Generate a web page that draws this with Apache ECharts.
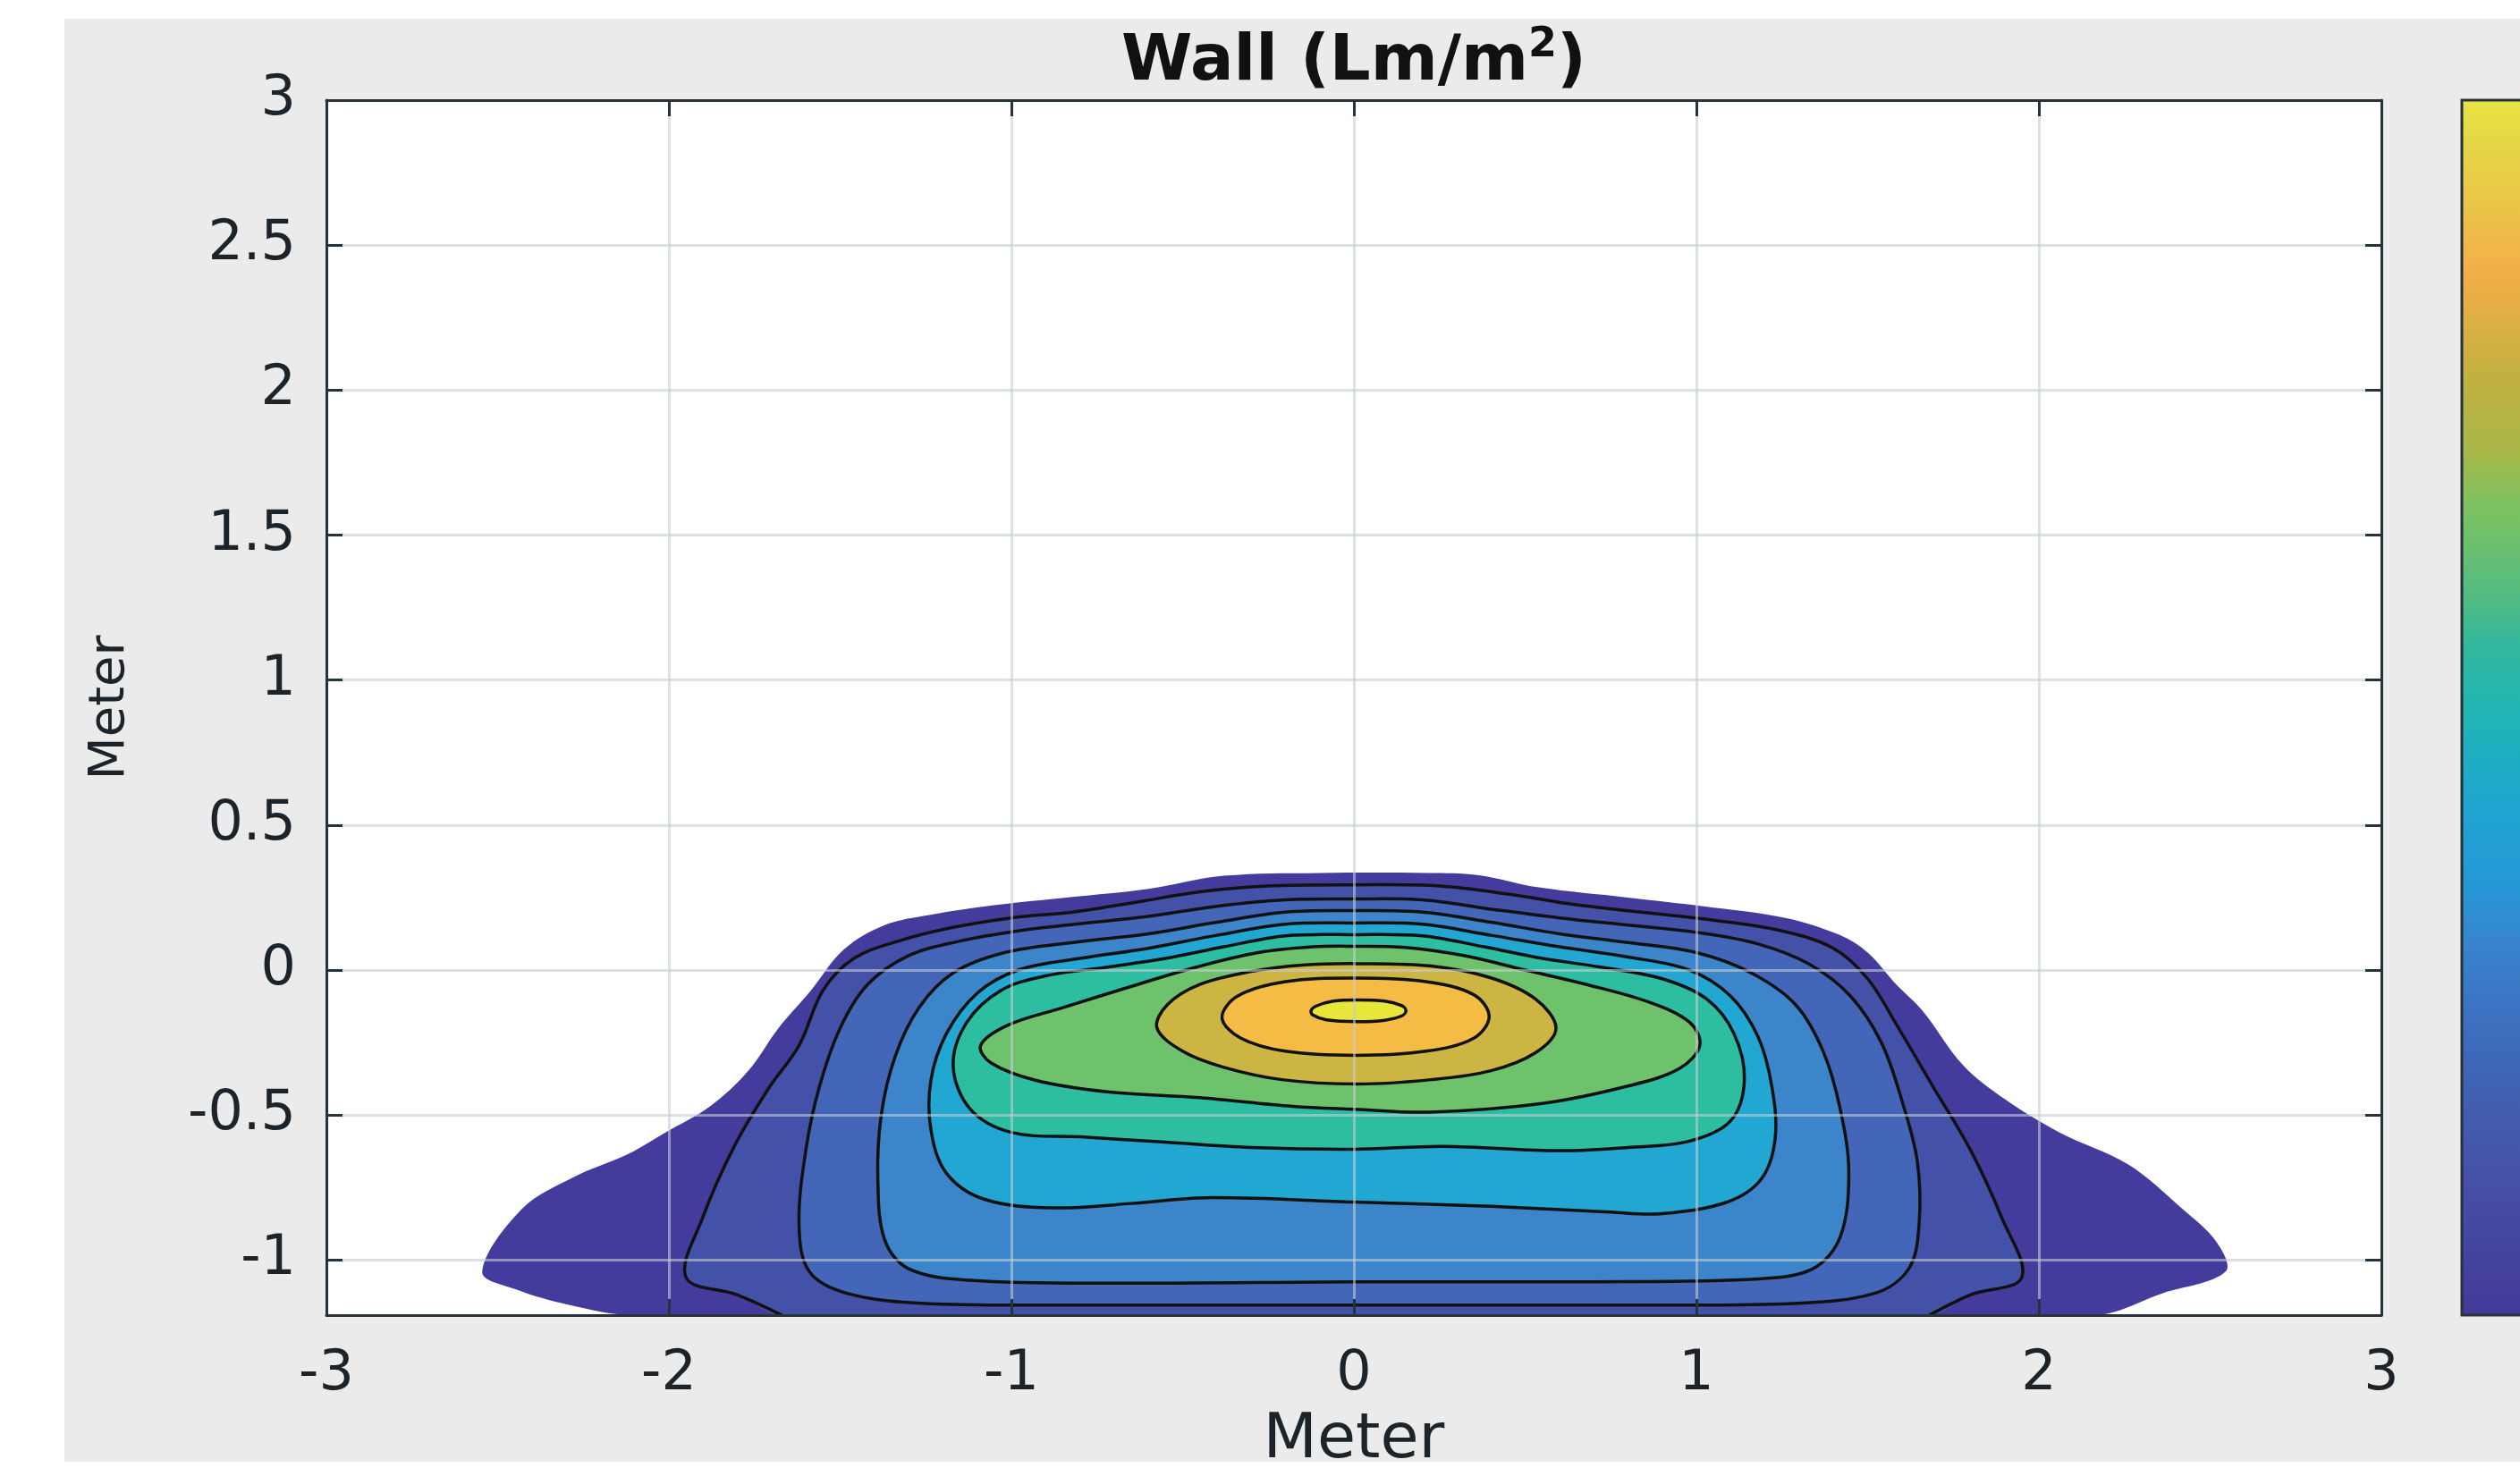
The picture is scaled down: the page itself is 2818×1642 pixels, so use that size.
<!DOCTYPE html>
<html><head><meta charset="utf-8">
<script src="https://cdn.jsdelivr.net/npm/echarts@6/dist/echarts.min.js"></script>
<style>html,body{margin:0;padding:0;background:#fff}#c{width:2818px;height:1642px}</style>
</head><body><div id="c"></div>
<script>
// ---- axes ----
const xTickLabels = ['-3', '-2', '-1', '0', '1', '2', '3'];
const yTickLabels = ['-1', '-0.5', '0', '0.5', '1', '1.5', '2', '2.5', '3'];
const xRange = [-3, 3];
const yRange = [-1.19, 3];

// ---- filled contour boundaries (x, y in metres), outermost level first ----
const level1Edge = [[-2.10,-1.19],[-2.29,-1.155],[-2.45,-1.10],[-2.545,-1.04],[-2.43,-0.825],[-2.28,-0.715],[-2.12,-0.635],[-2.01,-0.56],[-1.88,-0.47],[-1.77,-0.35],[-1.68,-0.20],[-1.585,-0.07],[-1.49,0.07],[-1.37,0.155],[-1.24,0.19],[-1.04,0.225],[-0.84,0.25],[-0.60,0.28],[-0.38,0.325],[-0.10,0.335],[0.22,0.335],[0.36,0.328],[0.54,0.285],[0.80,0.25],[1.02,0.22],[1.26,0.18],[1.42,0.12],[1.50,0.06],[1.58,-0.045],[1.66,-0.14],[1.78,-0.33],[1.90,-0.445],[2.06,-0.56],[2.26,-0.67],[2.42,-0.825],[2.52,-0.94],[2.545,-1.04],[2.36,-1.115],[2.16,-1.19]];
const level2Edge = [[-1.67,-1.19],[-1.80,-1.12],[-1.95,-1.06],[-1.90,-0.85],[-1.81,-0.61],[-1.71,-0.41],[-1.62,-0.26],[-1.55,-0.07],[-1.46,0.04],[-1.33,0.10],[-1.18,0.145],[-1.00,0.18],[-0.82,0.20],[-0.63,0.235],[-0.45,0.27],[-0.25,0.29],[0.00,0.294],[0.25,0.29],[0.45,0.262],[0.65,0.225],[0.85,0.198],[1.05,0.172],[1.25,0.135],[1.40,0.075],[1.50,-0.03],[1.59,-0.20],[1.69,-0.40],[1.80,-0.62],[1.89,-0.85],[1.95,-1.06],[1.80,-1.12],[1.68,-1.19]];
const level3Edge = [[0,-1.155],[-0.8,-1.155],[-1.25,-1.15],[-1.48,-1.115],[-1.59,-1.04],[-1.62,-0.88],[-1.60,-0.62],[-1.56,-0.40],[-1.50,-0.20],[-1.42,-0.05],[-1.30,0.05],[-1.15,0.10],[-0.98,0.135],[-0.80,0.16],[-0.60,0.185],[-0.40,0.22],[-0.20,0.242],[0,0.245],[0.20,0.242],[0.40,0.21],[0.60,0.18],[0.80,0.155],[1.00,0.13],[1.18,0.09],[1.33,0.02],[1.45,-0.09],[1.54,-0.25],[1.60,-0.45],[1.645,-0.66],[1.65,-0.88],[1.62,-1.03],[1.52,-1.115],[1.28,-1.15],[0.8,-1.155]];
const level4Edge = [[0,-1.075],[-0.7,-1.08],[-1.12,-1.07],[-1.30,-1.03],[-1.37,-0.93],[-1.39,-0.72],[-1.38,-0.50],[-1.34,-0.30],[-1.27,-0.13],[-1.17,-0.01],[-1.02,0.06],[-0.82,0.095],[-0.60,0.125],[-0.40,0.165],[-0.20,0.2],[0,0.205],[0.20,0.2],[0.40,0.165],[0.60,0.125],[0.80,0.095],[1.00,0.06],[1.16,-0.01],[1.29,-0.12],[1.37,-0.28],[1.42,-0.48],[1.445,-0.70],[1.42,-0.92],[1.34,-1.03],[1.18,-1.065],[0.7,-1.075]];
const level5Edge = [[0,-0.80],[-0.43,-0.785],[-0.65,-0.805],[-0.88,-0.82],[-1.08,-0.79],[-1.19,-0.70],[-1.235,-0.55],[-1.235,-0.38],[-1.19,-0.22],[-1.10,-0.08],[-0.98,0.00],[-0.80,0.04],[-0.60,0.075],[-0.40,0.12],[-0.20,0.158],[0,0.162],[0.20,0.158],[0.40,0.12],[0.60,0.08],[0.80,0.045],[0.98,0.0],[1.10,-0.09],[1.18,-0.23],[1.22,-0.40],[1.23,-0.58],[1.19,-0.72],[1.09,-0.80],[0.90,-0.84],[0.75,-0.835],[0.40,-0.815]];
const level6Edge = [[0,-0.618],[-0.30,-0.612],[-0.56,-0.593],[-0.80,-0.575],[-1.00,-0.56],[-1.12,-0.48],[-1.17,-0.33],[-1.13,-0.18],[-1.03,-0.07],[-0.90,-0.02],[-0.72,0.01],[-0.55,0.04],[-0.38,0.08],[-0.20,0.118],[0,0.122],[0.20,0.118],[0.38,0.08],[0.55,0.04],[0.72,0.01],[0.90,-0.03],[1.03,-0.10],[1.11,-0.22],[1.14,-0.38],[1.10,-0.52],[0.98,-0.59],[0.80,-0.612],[0.60,-0.623],[0.26,-0.608]];
const level7Edge = [[0,-0.48],[-0.18,-0.47],[-0.45,-0.44],[-0.72,-0.42],[-0.93,-0.38],[-1.06,-0.32],[-1.09,-0.26],[-1.01,-0.19],[-0.85,-0.13],[-0.66,-0.06],[-0.46,0.01],[-0.28,0.06],[-0.12,0.08],[0,0.082],[0.15,0.078],[0.32,0.05],[0.50,0.0],[0.68,-0.05],[0.86,-0.11],[0.98,-0.18],[1.01,-0.26],[0.95,-0.34],[0.80,-0.40],[0.55,-0.46],[0.22,-0.49]];
const level8Edge = [[0.01,-0.393],[-0.21,-0.378],[-0.384,-0.334],[-0.50,-0.28],[-0.575,-0.20],[-0.545,-0.12],[-0.45,-0.05],[-0.30,-0.005],[-0.15,0.017],[0.01,0.022],[0.225,0.014],[0.40,-0.027],[0.53,-0.10],[0.59,-0.20],[0.53,-0.285],[0.40,-0.347],[0.225,-0.378]];
const level9Edge = [[0.005,-0.294],[-0.20,-0.28],[-0.33,-0.235],[-0.385,-0.165],[-0.34,-0.09],[-0.20,-0.04],[0.005,-0.028],[0.21,-0.04],[0.35,-0.085],[0.395,-0.16],[0.35,-0.235],[0.21,-0.28]];
const level10Edge = [[0.01,-0.178],[-0.08,-0.172],[-0.12,-0.155],[-0.125,-0.14],[-0.11,-0.124],[-0.06,-0.107],[0.01,-0.103],[0.09,-0.107],[0.14,-0.123],[0.152,-0.14],[0.14,-0.158],[0.09,-0.173]];

const levelEdges = [level1Edge, level2Edge, level3Edge, level4Edge, level5Edge, level6Edge, level7Edge, level8Edge, level9Edge, level10Edge];
const levelTouchesBottom = [true, true, false, false, false, false, false, false, false, false];
const levelHasLine = [false, true, true, true, true, true, true, true, true, true];

// ---- styles ----
const levelColors = ['#433c9c', '#4451a9', '#4366b8', '#3c85ca', '#21a7d1', '#2dbda1', '#6dc26b', '#cdb544', '#f4bb45', '#e9e63a'];
const colorbarStops = [[0,'#e7e545'],[0.03,'#e6d846'],[0.09,'#eac447'],[0.145,'#f3ae48'],[0.22,'#c6b040'],[0.29,'#a8b848'],[0.33,'#80c25e'],[0.41,'#52bb82'],[0.45,'#31b89e'],[0.50,'#20b6b3'],[0.58,'#1fa6d0'],[0.645,'#2597d6'],[0.70,'#3a82cb'],[0.76,'#3c6fbf'],[0.82,'#4160b2'],[0.88,'#4552a8'],[0.94,'#4545a0'],[1.0,'#433998']];

const FONT = '"DejaVu Sans", "Liberation Sans", Arial, sans-serif';
const AXIS_COLOR = '#25343c';
const TEXT_COLOR = '#1c2429';
const GRID = {left: 365, top: 112, width: 2298, height: 1359};
const SMOOTH = 0.35;

const chart = echarts.init(document.getElementById('c'), null, {renderer: 'canvas'});

function renderItem(params, api) {
  const i = params.dataIndex;
  const pts = levelEdges[i].map(p => api.coord(p));
  const color = levelColors[i];
  const children = [];
  if (levelTouchesBottom[i]) {
    children.push({type: 'polygon', shape: {points: pts, smooth: SMOOTH}, style: {fill: color}});
    if (levelHasLine[i]) {
      children.push({type: 'polyline', shape: {points: pts, smooth: SMOOTH}, style: {fill: null, stroke: '#111', lineWidth: 3.5}});
    }
  } else {
    children.push({type: 'polygon', shape: {points: pts, smooth: SMOOTH}, style: {fill: color, stroke: '#111', lineWidth: 3.5}});
  }
  return {type: 'group', children};
}

function labelFor(list) {
  return function (v) {
    const s = String(Math.round(v * 100) / 100);
    return list.indexOf(s) >= 0 ? s : '';
  };
}

function mirrorAxis(extra) {
  return Object.assign({
    type: 'value', z: 3,
    axisLabel: {show: false}, splitLine: {show: false},
    axisLine: {show: true, onZero: false, lineStyle: {color: AXIS_COLOR, width: 3}},
    axisTick: {show: true, inside: true, length: 18, lineStyle: {color: AXIS_COLOR, width: 3}}
  }, extra);
}

chart.setOption({
  backgroundColor: '#ffffff',
  animation: false,
  graphic: [
    {type: 'rect', z: -10, shape: {x: 72, y: 21, width: 2746, height: 1614}, style: {fill: '#ebebeb'}},
    {type: 'rect', z: 10, shape: {x: 2753, y: 112, width: 90, height: 1359},
      style: {fill: new echarts.graphic.LinearGradient(0, 0, 0, 1, colorbarStops.map(s => ({offset: s[0], color: s[1]}))), stroke: AXIS_COLOR, lineWidth: 3}},
    {type: 'text', z: 10, x: 1514, y: 70,
      style: {text: '{t|Wall (Lm/m}{s|2}{t|)}', align: 'center', verticalAlign: 'middle',
        rich: {t: {fontFamily: FONT, fontWeight: 'bold', fontSize: 72, fill: '#111', lineHeight: 84},
               s: {fontFamily: FONT, fontWeight: 'bold', fontSize: 46, fill: '#111', verticalAlign: 'top', lineHeight: 40}}}}
  ],
  grid: {left: GRID.left, top: GRID.top, width: GRID.width, height: GRID.height, show: true, backgroundColor: '#ffffff', borderWidth: 0, z: 0,
    containLabel: false, outerBoundsMode: 'none'},
  xAxis: [
    {type: 'value', position: 'bottom', min: xRange[0], max: xRange[1], interval: 1, z: 3,
      name: 'Meter', nameLocation: 'middle', nameGap: 106,
      nameTextStyle: {fontFamily: FONT, fontSize: 70, color: TEXT_COLOR},
      axisLine: {show: true, onZero: false, lineStyle: {color: AXIS_COLOR, width: 3}},
      axisTick: {show: true, inside: true, length: 18, lineStyle: {color: AXIS_COLOR, width: 3}},
      axisLabel: {fontFamily: FONT, fontSize: 62, color: TEXT_COLOR, margin: 36, formatter: labelFor(xTickLabels)},
      splitLine: {show: true, lineStyle: {color: 'rgba(196,205,212,0.6)', width: 3}}},
    mirrorAxis({position: 'top', min: xRange[0], max: xRange[1], interval: 1})
  ],
  yAxis: [
    {type: 'value', position: 'left', min: yRange[0], max: yRange[1], splitNumber: 8, z: 3,
      name: 'Meter', nameLocation: 'middle', nameGap: 214, nameRotate: 90,
      nameTextStyle: {fontFamily: FONT, fontSize: 56, color: TEXT_COLOR},
      axisLine: {show: true, onZero: false, lineStyle: {color: AXIS_COLOR, width: 3}},
      axisTick: {show: true, inside: true, length: 18, lineStyle: {color: AXIS_COLOR, width: 3}},
      axisLabel: {fontFamily: FONT, fontSize: 62, color: TEXT_COLOR, margin: 34, formatter: labelFor(yTickLabels)},
      splitLine: {show: true, lineStyle: {color: 'rgba(196,205,212,0.6)', width: 3}}},
    mirrorAxis({position: 'right', min: yRange[0], max: yRange[1], splitNumber: 8})
  ],
  series: [{
    type: 'custom', z: 2, clip: true,
    xAxisIndex: 0, yAxisIndex: 0,
    renderItem: renderItem,
    data: levelEdges.map((e, i) => [i]),
    silent: true
  }]
});
</script></body></html>
